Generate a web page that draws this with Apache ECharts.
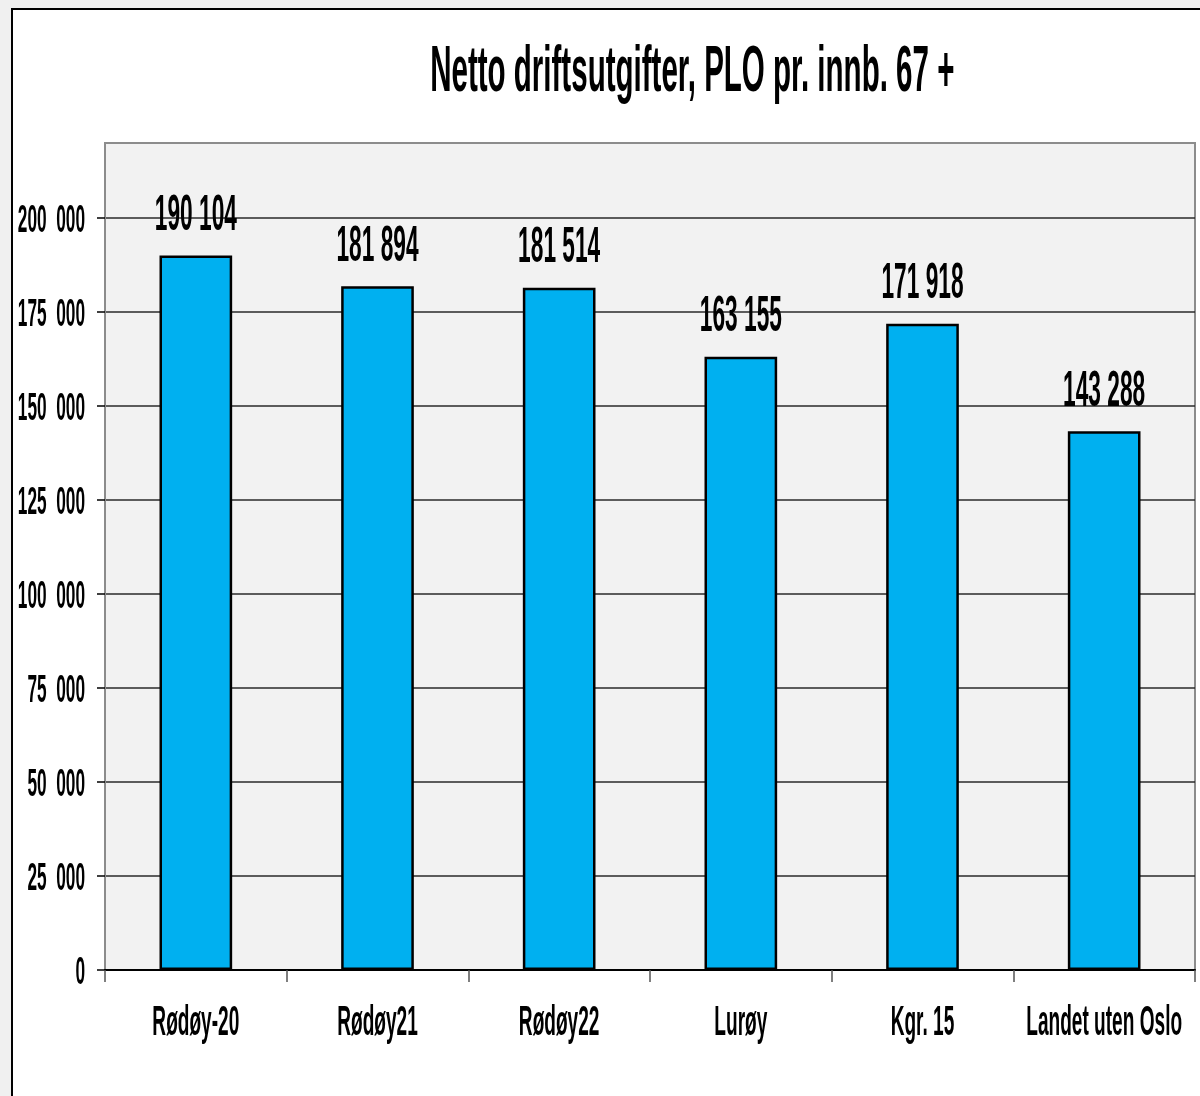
<!DOCTYPE html>
<html>
<head>
<meta charset="utf-8">
<script src="https://cdn.jsdelivr.net/npm/echarts@6/dist/echarts.min.js"></script>
<style>
  html, body { margin: 0; padding: 0; width: 1200px; height: 1096px; background: #f0f0f0; overflow: hidden; }
  #frame { position: absolute; left: 11px; top: 8px; width: 1200px; height: 1100px; background: #ffffff; border-left: 2px solid #000; border-top: 2px solid #000; }
  #chart { position: absolute; left: 0; top: 0; width: 1200px; height: 1096px; }
  #text { position: absolute; left: 0; top: 0; width: 2640px; height: 1096px; transform: scaleX(0.454545); transform-origin: 0 0; }
</style>
</head>
<body>
<div id="frame"></div>
<div id="chart"></div>
<div id="text"></div>
<script>
const titleText = 'Netto driftsutgifter, PLO pr. innb. 67 +';
const categories = ['Rødøy-20', 'Rødøy21', 'Rødøy22', 'Lurøy', 'Kgr. 15', 'Landet uten Oslo'];
const values = [190104, 181894, 181514, 163155, 171918, 143288];
const yTicks = [0, 25000, 50000, 75000, 100000, 125000, 150000, 175000, 200000];
const yMin = 0;
const yMax = 220000;
const yStep = 25000;

// The reference uses a very narrow typeface; text is drawn on a layer that is
// laid out S times wider and then squeezed horizontally by 1/S.
const S = 2.2;
const FONT = '"Liberation Sans", Arial, sans-serif';
const G = { left: 105, right: 5, top: 143, bottom: 126 };

function spaced(v, sep) {
  const s = String(Math.round(v));
  return s.replace(/\B(?=(\d{3})+(?!\d))/g, sep);
}

// Layer 1: plot area, axes, grid lines and bars
const chart = echarts.init(document.getElementById('chart'), null, { renderer: 'canvas' });
chart.setOption({
  backgroundColor: 'transparent',
  animation: false,
  grid: {
    left: G.left, right: G.right, top: G.top, bottom: G.bottom,
    outerBoundsMode: 'none',
    containLabel: false,
    show: true,
    backgroundColor: '#f2f2f2',
    borderColor: '#8c8c8c',
    borderWidth: 2
  },
  xAxis: {
    type: 'category',
    data: categories,
    axisLine: { show: true, lineStyle: { color: '#000', width: 2 } },
    axisTick: { show: true, length: 12, lineStyle: { color: '#555', width: 1.5 } },
    axisLabel: { show: false }
  },
  yAxis: {
    type: 'value',
    min: yMin, max: yMax, interval: yStep,
    axisLine: { show: true, lineStyle: { color: '#8c8c8c', width: 2 } },
    axisTick: { show: true, length: 8, customValues: yTicks, lineStyle: { color: '#000', width: 1.5 } },
    splitLine: { show: true, lineStyle: { color: '#2a2a2a', width: 1.5 } },
    axisLabel: { show: false }
  },
  series: [{
    type: 'bar',
    data: values,
    barWidth: '40%',
    itemStyle: { color: '#00b0f0', borderColor: '#000', borderWidth: 2.5 },
    label: { show: false }
  }]
});

// Layer 2: all text (title, tick labels, value labels) on the same scales
const text = echarts.init(document.getElementById('text'), null, { renderer: 'svg' });
text.setOption({
  backgroundColor: 'transparent',
  animation: false,
  title: {
    text: titleText,
    left: 690 * S,
    textAlign: 'center',
    top: 31,
    textStyle: { fontFamily: FONT, fontWeight: 'bold', fontSize: 65, color: '#000' }
  },
  grid: {
    left: G.left * S, right: G.right * S, top: G.top, bottom: G.bottom,
    outerBoundsMode: 'none',
    containLabel: false,
    show: false
  },
  xAxis: {
    type: 'category',
    data: categories,
    axisLine: { show: false },
    axisTick: { show: false },
    axisLabel: { interval: 0, margin: 29, fontFamily: FONT, fontWeight: 'bold', fontSize: 42, color: '#000' }
  },
  yAxis: {
    type: 'value',
    min: yMin, max: yMax, interval: yStep,
    axisLine: { show: false },
    axisTick: { show: false },
    splitLine: { show: false },
    axisLabel: {
      customValues: yTicks,
      margin: 20 * S,
      fontFamily: FONT, fontWeight: 'bold', fontSize: 38, color: '#000',
      formatter: function (v) {
        return v === 0 ? '0' : spaced(v, '\u00a0\u00a0');
      }
    }
  },
  series: [{
    type: 'bar',
    data: values,
    barWidth: '40%',
    itemStyle: { color: 'rgba(0,0,0,0)', borderWidth: 0 },
    label: {
      show: true,
      position: 'top',
      distance: 18,
      fontFamily: FONT, fontWeight: 'bold', fontSize: 50, color: '#000',
      formatter: function (p) { return spaced(p.value, ' '); }
    }
  }]
});
</script>
</body>
</html>
